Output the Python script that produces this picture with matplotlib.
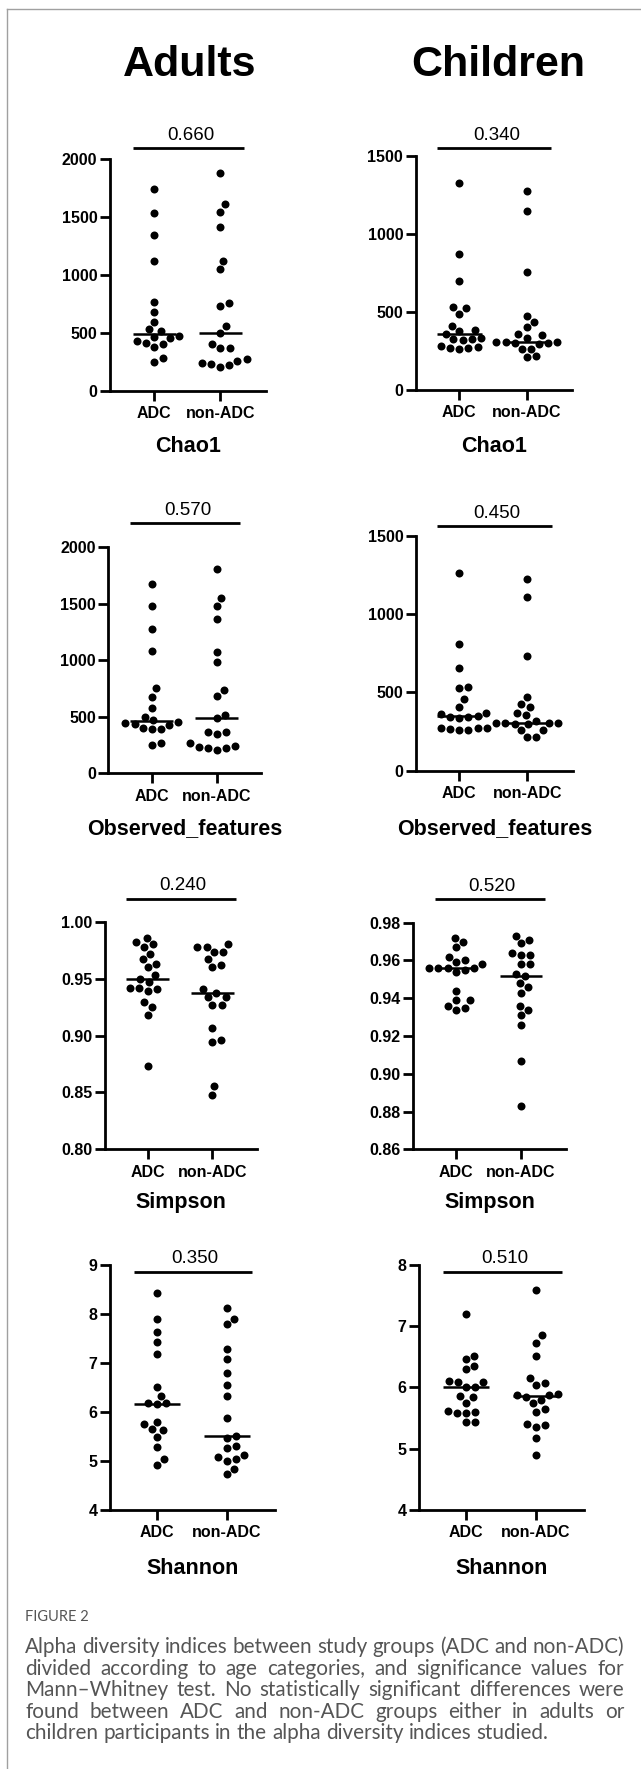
import numpy as np
import matplotlib
matplotlib.use("Agg")
import matplotlib.pyplot as plt
from matplotlib.lines import Line2D
from matplotlib.transforms import blended_transform_factory

plt.rcParams['font.family'] = ['Liberation Sans', 'DejaVu Sans']

W, H, DPI = 641, 1769, 100

groups = ["ADC", "non-ADC"]
columns = ["Adults", "Children"]
indices = ["Chao1", "Observed_features", "Simpson", "Shannon"]
p_adults = ["0.660", "0.570", "0.240", "0.350"]
p_children = ["0.340", "0.450", "0.520", "0.510"]

# values
adults_chao1_adc = [1739, 1535, 1342, 1118, 762, 681, 595, 530, 515, 470, 465, 455, 430, 410, 405, 380, 285, 250]
adults_chao1_non = [1881, 1607, 1540, 1414, 1121, 1046, 759, 730, 558, 494, 402, 371, 371, 270, 256, 240, 230, 218, 207]
children_chao1_adc = [1325, 870, 699, 531, 528, 487, 412, 385, 380, 360, 335, 330, 325, 320, 285, 275, 270, 268, 265]
children_chao1_non = [1278, 1150, 759, 474, 438, 406, 357, 353, 335, 310, 308, 305, 303, 300, 298, 265, 262, 215, 212]
adults_obs_adc = [1673, 1481, 1277, 1086, 752, 678, 581, 501, 470, 455, 448, 440, 430, 400, 395, 390, 265, 250]
adults_obs_non = [1808, 1555, 1481, 1363, 1071, 988, 738, 684, 516, 487, 368, 362, 345, 265, 242, 235, 228, 221, 206]
children_obs_adc = [1260, 808, 653, 532, 525, 457, 408, 370, 362, 351, 345, 340, 335, 275, 272, 270, 265, 262, 260]
children_obs_non = [1221, 1107, 732, 468, 426, 408, 366, 355, 318, 305, 305, 303, 302, 300, 298, 262, 258, 218, 215]
adults_simpson_adc = [0.986, 0.982, 0.980, 0.978, 0.972, 0.967, 0.963, 0.960, 0.953, 0.950, 0.947, 0.942, 0.942, 0.941, 0.939, 0.929, 0.925, 0.918, 0.873]
adults_simpson_non = [0.980, 0.978, 0.978, 0.973, 0.973, 0.967, 0.962, 0.960, 0.941, 0.937, 0.934, 0.934, 0.927, 0.927, 0.907, 0.896, 0.894, 0.856, 0.848]
children_simpson_adc = [0.972, 0.970, 0.967, 0.962, 0.960, 0.959, 0.958, 0.956, 0.956, 0.956, 0.956, 0.955, 0.954, 0.944, 0.939, 0.939, 0.936, 0.935, 0.934]
children_simpson_non = [0.973, 0.971, 0.969, 0.964, 0.963, 0.963, 0.958, 0.958, 0.953, 0.952, 0.948, 0.946, 0.943, 0.936, 0.934, 0.931, 0.926, 0.907, 0.883]
adults_shannon_adc = [8.43, 7.90, 7.63, 7.42, 7.17, 6.50, 6.33, 6.18, 6.17, 6.16, 5.80, 5.75, 5.65, 5.62, 5.49, 5.29, 5.04, 4.92]
adults_shannon_non = [8.11, 7.90, 7.78, 7.28, 7.08, 6.80, 6.55, 6.33, 5.87, 5.51, 5.46, 5.30, 5.26, 5.12, 5.07, 5.03, 5.00, 4.84, 4.73]
children_shannon_adc = [7.20, 6.51, 6.46, 6.35, 6.30, 6.10, 6.09, 6.09, 6.01, 6.01, 5.86, 5.84, 5.74, 5.62, 5.59, 5.58, 5.58, 5.43, 5.43]
children_shannon_non = [7.59, 6.85, 6.73, 6.51, 6.15, 6.07, 6.04, 5.89, 5.88, 5.88, 5.85, 5.80, 5.74, 5.64, 5.60, 5.40, 5.39, 5.36, 5.18, 4.89]

adults_data = [(adults_chao1_adc, adults_chao1_non), (adults_obs_adc, adults_obs_non),
               (adults_simpson_adc, adults_simpson_non), (adults_shannon_adc, adults_shannon_non)]
children_data = [(children_chao1_adc, children_chao1_non), (children_obs_adc, children_obs_non),
                 (children_simpson_adc, children_simpson_non), (children_shannon_adc, children_shannon_non)]

# y axis ranges (min, max, step)
adults_y = [(0, 2000, 500), (0, 2000, 500), (0.80, 1.00, 0.05), (4, 9, 1)]
children_y = [(0, 1500, 500), (0, 1500, 500), (0.86, 0.98, 0.02), (4, 8, 1)]
y_fmt = ["{:.0f}", "{:.0f}", "{:.2f}", "{:.0f}"]

# panel geometry in pixels: y-axis x, x-axis right end, top, bottom, ADC x, non-ADC x, bar y
adults_geo = [(110, 265.7, 158.7, 390.7, 154.3, 220.3, 148),
              (108.3, 260.7, 547.3, 773.3, 151.7, 216.7, 523.3),
              (105, 256.7, 921.7, 1149.3, 147.7, 212.3, 899),
              (110, 275, 1264.6, 1510, 156.7, 226.7, 1271.7)]
children_geo = [(415.7, 571.7, 156, 390, 459.3, 526.7, 148),
                (416, 573.3, 535.7, 770.7, 459.3, 527.3, 526),
                (413.3, 565.7, 922.7, 1149.3, 456, 521, 899.3),
                (419, 584.3, 1264.7, 1510, 465.7, 536, 1271.7)]
label_y = [444, 826, 1200.7, 1566.7]


def swarm(yp, d):
    # greedy beeswarm in pixel space, returns x offsets in pixels
    order = np.argsort(yp)
    placed = []
    xs = np.zeros(len(yp))
    for i in order:
        y = yp[i]
        cands = [0.0]
        for px, py in placed:
            dy = abs(y - py)
            if dy < d:
                dx = np.sqrt(d * d - dy * dy)
                cands += [px + dx, px - dx]
        cands.sort(key=lambda c: (round(abs(c), 6), -c))
        for c in cands:
            if all((c - px) ** 2 + (y - py) ** 2 >= d * d - 1e-6 for px, py in placed):
                xs[i] = c
                placed.append((c, y))
                break
    return xs


fig = plt.figure(figsize=(W / DPI, H / DPI), dpi=DPI)
fig.patch.set_facecolor("white")

# open frame (top and left lines)
fig.add_artist(Line2D([7 / W, 1], [1 - 9 / H, 1 - 9 / H], color="#a0a0a0", lw=1.0))
fig.add_artist(Line2D([7 / W, 7 / W], [1 - 9 / H, 0], color="#a0a0a0", lw=1.0))

LW = 2.0
DOT = 8.0  # dot diameter px

for col, (data, yr, geo, pvals) in enumerate([(adults_data, adults_y, adults_geo, p_adults),
                                                (children_data, children_y, children_geo, p_children)]):
    for row in range(4):
        ax_x, right_x, top, bottom, adc_x, non_x, bar_y = geo[row]
        ymin, ymax, step = yr[row]
        ax = fig.add_axes([ax_x / W, 1 - bottom / H, (right_x - ax_x) / W, (bottom - top) / H])
        unit = non_x - adc_x
        ax.set_xlim((ax_x - adc_x) / unit, (right_x - adc_x) / unit)
        ax.set_ylim(ymin, ymax)
        px_per_y = (bottom - top) / (ymax - ymin)

        for k, vals in enumerate(data[row]):
            v = np.array(vals, dtype=float)
            offs = swarm(v * px_per_y, DOT + 1.2) / unit
            ax.scatter(k + offs, v, s=(DOT * 72 / DPI) ** 2, c="black", linewidths=0,
                       clip_on=False, zorder=3)
            med = np.median(v)
            ax.plot([k - 0.33, k + 0.33], [med, med], color="black", lw=1.8,
                     solid_capstyle="butt", zorder=4, clip_on=False)

        for s in ["top", "right"]:
            ax.spines[s].set_visible(False)
        for s in ["left", "bottom"]:
            ax.spines[s].set_linewidth(LW)
            ax.spines[s].set_capstyle("projecting")
        ticks = np.arange(ymin, ymax + step / 2, step)
        ax.set_yticks(ticks)
        ax.set_yticklabels([y_fmt[row].format(t) for t in ticks])
        ax.set_xticks([0, 1])
        ax.set_xticklabels(groups)
        ax.tick_params(axis="both", direction="out", length=7, width=LW, pad=2,
                       labelsize=11.5, colors="black")
        ax.tick_params(axis="x", pad=4)
        for t in ax.get_xticklabels() + ax.get_yticklabels():
            t.set_fontweight("bold")
        ax.set_facecolor("none")

        # significance bar and p value
        tr = blended_transform_factory(ax.transData, fig.transFigure)
        fb = 1 - bar_y / H
        ax.plot([-0.33, 1.365], [fb, fb], color="black", lw=LW, transform=tr,
                clip_on=False, solid_capstyle="butt")
        ax.text(0.55, 1 - (bar_y - 8.5) / H, pvals[row], transform=tr, ha="center",
                va="baseline", fontsize=13.5)

        # index label
        cx = (ax_x + right_x) / 2 / W
        fig.text(cx, 1 - (label_y[row] + 7.7) / H, indices[row], ha="center",
                 va="baseline", fontsize=15.5, fontweight="bold")

fig.text(190 / W, 1 - 75.5 / H, columns[0], ha="center", va="baseline",
         fontsize=31, fontweight="bold")
fig.text(498 / W, 1 - 75.5 / H, columns[1], ha="center", va="baseline",
         fontsize=31, fontweight="bold")

# caption
cap_color = "#555555"
cap_family = ["Lato", "DejaVu Sans"]
fig.text(25 / W, 1 - 1621 / H, "FIGURE 2", ha="left", va="baseline",
         fontsize=10.5, color=cap_color, family=cap_family)

cap_lines = [
    "Alpha diversity indices between study groups (ADC and non-ADC)",
    "divided according to age categories, and significance values for",
    "Mann\u2013Whitney test. No statistically significant differences were",
    "found between ADC and non-ADC groups either in adults or",
    "children participants in the alpha diversity indices studied.",
]
cap_base = [1653, 1674.5, 1696, 1717.5, 1739]
left_px, right_px = 25, 624
renderer = fig.canvas.get_renderer()
cap_font = dict(family=cap_family, color=cap_color)


def width_px(s, fs):
    t = fig.text(0, 0, s, fontsize=fs, **cap_font)
    w = t.get_window_extent(renderer).width
    t.remove()
    return w


fs = 12.0
fs = fs * (right_px - left_px - 3) / width_px(cap_lines[0], fs)

for i, line in enumerate(cap_lines):
    words = line.split(" ")
    wds = [width_px(w, fs) for w in words]
    yb = 1 - cap_base[i] / H
    if i < len(cap_lines) - 1:
        gap = (right_px - left_px - sum(wds)) / (len(words) - 1)
    else:
        gap = width_px("a b", fs) - width_px("ab", fs)
    x = left_px
    for w, ww in zip(words, wds):
        fig.text(x / W, yb, w, ha="left", va="baseline", fontsize=fs, **cap_font)
        x += ww + gap

fig.savefig("out.png", dpi=DPI)
